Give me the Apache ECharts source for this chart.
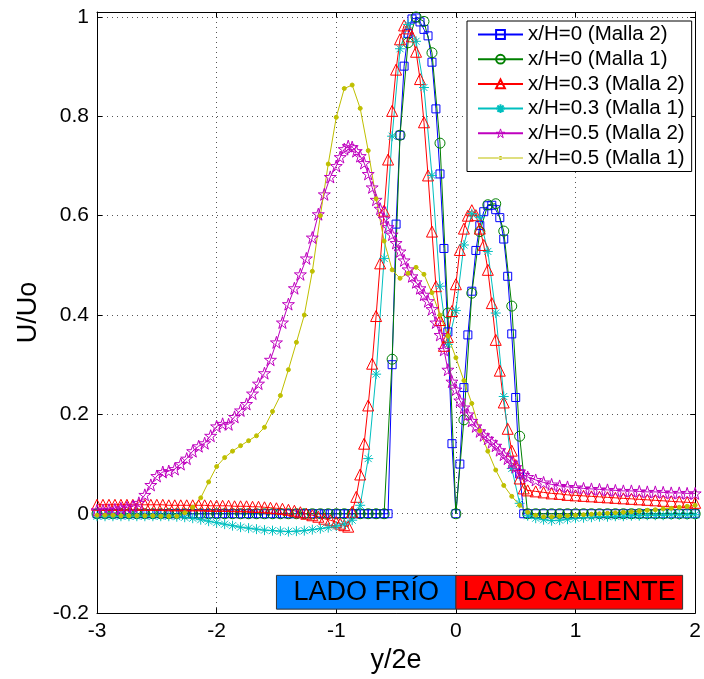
<!DOCTYPE html>
<html><head><meta charset="utf-8">
<script src="https://cdn.jsdelivr.net/npm/echarts@6/dist/echarts.min.js"></script>
<style>html,body{margin:0;padding:0;background:#fff}#c{width:704px;height:679px}</style>
</head><body><div id="c"></div>
<script>
// Malla 2 abscissae (y/2e)
const xMalla2 = [
-3,-2.95,-2.9,-2.85,-2.8,-2.75,-2.7,-2.65,-2.6,-2.55,
-2.5,-2.45,-2.4,-2.35,-2.3,-2.25,-2.2,-2.15,-2.1,-2.05,
-2,-1.95,-1.9,-1.85,-1.8,-1.75,-1.7,-1.65,-1.6,-1.55,
-1.5,-1.45,-1.4,-1.35,-1.3,-1.25,-1.2,-1.15,-1.1,-1.05,
-1,-0.967,-0.933,-0.9,-0.867,-0.833,-0.8,-0.767,-0.733,-0.7,
-0.667,-0.633,-0.6,-0.567,-0.533,-0.5,-0.467,-0.433,-0.4,-0.367,
-0.333,-0.3,-0.267,-0.233,-0.2,-0.167,-0.133,-0.1,-0.067,-0.033,
0,0.033,0.067,0.1,0.133,0.167,0.2,0.233,0.267,0.3,
0.333,0.367,0.4,0.433,0.467,0.5,0.533,0.567,0.6,0.667,
0.733,0.8,0.867,0.933,1,1.067,1.133,1.2,1.267,1.333,
1.4,1.467,1.533,1.6,1.667,1.733,1.8,1.867,1.933,2];
// Malla 1 abscissae
const xMalla1 = [
-3,-2.933,-2.867,-2.8,-2.733,-2.667,-2.6,-2.533,-2.467,-2.4,
-2.333,-2.267,-2.2,-2.133,-2.067,-2,-1.933,-1.867,-1.8,-1.733,
-1.667,-1.6,-1.533,-1.467,-1.4,-1.333,-1.267,-1.2,-1.133,-1.067,
-1,-0.933,-0.867,-0.8,-0.733,-0.667,-0.6,-0.533,-0.467,-0.4,
-0.333,-0.267,-0.2,-0.133,-0.067,0,0.067,0.133,0.2,0.267,
0.333,0.4,0.467,0.533,0.6,0.667,0.733,0.8,0.867,0.933,
1,1.067,1.133,1.2,1.267,1.333,1.4,1.467,1.533,1.6,
1.667,1.733,1.8,1.867,1.933,2];

// x/H=0 (Malla 2)
const u_x0_m2 = [
0,0,0,0,0,0,0,0,0,0,
0,0,0,0,0,0,0,0,0,0,
0,0,0,0,0,0,0,0,0,0,
0,0,0,0,0,0,0,0,0,0,
0,0,0,0,0,0,0,0,0,0,
0,0,0,0,0.30,0.583,0.762,0.901,0.967,0.996,
0.998,0.99,0.975,0.962,0.909,0.815,0.684,0.534,0.366,0.141,
0,0.10,0.254,0.36,0.448,0.53,0.58,0.608,0.62,0.621,
0.612,0.596,0.553,0.478,0.362,0.234,0.08,0,0,0,
0,0,0,0,0,0,0,0,0,0,
0,0,0,0,0,0,0,0,0,0];
// x/H=0 (Malla 1)
const u_x0_m1 = [
0,0,0,0,0,0,0,0,0,0,
0,0,0,0,0,0,0,0,0,0,
0,0,0,0,0,0,0,0,0,0,
0,0,0,0,0,0,0,0.311,0.762,0.948,
1.0,0.991,0.928,0.746,0.404,0,0.189,0.444,0.568,0.622,
0.624,0.569,0.418,0.156,0,0,0,0,0,0,
0,0,0,0,0,0,0,0,0,0,
0,0,0,0,0,0];
// x/H=0.3 (Malla 2)
const u_x03_m2 = [
0.018,0.018,0.018,0.018,0.018,0.018,0.018,0.018,0.018,0.018,
0.018,0.018,0.017,0.017,0.017,0.017,0.017,0.017,0.017,0.016,
0.016,0.016,0.016,0.015,0.015,0.015,0.014,0.014,0.013,0.012,
0.011,0.01,0.008,0.006,0.003,0,-0.003,-0.006,-0.01,-0.013,
-0.017,-0.02,-0.023,-0.026,0.004,0.034,0.079,0.141,0.218,0.302,
0.398,0.504,0.61,0.713,0.811,0.894,0.955,0.983,0.977,0.961,
0.93,0.875,0.788,0.681,0.568,0.458,0.39,0.338,0.356,0.408,
0.462,0.531,0.574,0.6,0.611,0.601,0.574,0.541,0.491,0.424,
0.35,0.288,0.224,0.171,0.127,0.098,0.071,0.051,0.047,0.045,
0.043,0.041,0.04,0.038,0.037,0.036,0.035,0.034,0.033,0.032,
0.031,0.03,0.029,0.028,0.027,0.026,0.025,0.024,0.023,0.022];
// x/H=0.3 (Malla 1)
const u_x03_m1 = [
-0.005,-0.005,-0.005,-0.005,-0.005,-0.005,-0.005,-0.005,-0.005,-0.005,
-0.006,-0.007,-0.009,-0.012,-0.015,-0.018,-0.021,-0.024,-0.027,-0.029,
-0.031,-0.033,-0.034,-0.035,-0.036,-0.035,-0.034,-0.032,-0.03,-0.028,
-0.025,-0.021,-0.013,0.017,0.111,0.281,0.514,0.76,0.936,0.985,
0.951,0.858,0.681,0.458,0.341,0.409,0.541,0.604,0.596,0.528,
0.404,0.236,0.091,0.021,-0.004,-0.009,-0.012,-0.014,-0.013,-0.011,
-0.009,-0.008,-0.007,-0.006,-0.006,-0.005,-0.005,-0.004,-0.004,-0.003,
-0.003,-0.003,-0.002,-0.002,-0.002,-0.002];
// x/H=0.5 (Malla 2)
const u_x05_m2 = [
0.007,0.007,0.008,0.009,0.011,0.013,0.015,0.022,0.038,0.058,
0.076,0.084,0.086,0.09,0.1,0.111,0.126,0.136,0.142,0.157,
0.176,0.181,0.18,0.195,0.208,0.221,0.242,0.262,0.283,0.31,
0.345,0.385,0.422,0.454,0.482,0.514,0.556,0.603,0.643,0.678,
0.70,0.718,0.734,0.74,0.738,0.73,0.72,0.706,0.684,0.657,
0.632,0.614,0.594,0.577,0.562,0.545,0.528,0.51,0.492,0.478,
0.466,0.454,0.441,0.428,0.412,0.385,0.36,0.33,0.29,0.266,
0.25,0.228,0.214,0.2,0.187,0.176,0.166,0.158,0.151,0.144,
0.137,0.128,0.119,0.111,0.103,0.094,0.085,0.078,0.074,0.068,
0.063,0.059,0.056,0.054,0.053,0.051,0.05,0.049,0.048,0.047,
0.046,0.046,0.045,0.044,0.044,0.043,0.042,0.042,0.041,0.041];
// x/H=0.5 (Malla 1)
const u_x05_m1 = [
-0.003,-0.003,-0.003,-0.004,-0.004,-0.004,-0.004,-0.004,-0.005,-0.005,
-0.005,0.002,0.013,0.032,0.064,0.095,0.113,0.126,0.137,0.147,
0.157,0.174,0.206,0.238,0.29,0.345,0.4,0.488,0.6,0.704,
0.798,0.856,0.863,0.816,0.731,0.634,0.549,0.491,0.474,0.484,
0.496,0.482,0.445,0.4,0.358,0.314,0.268,0.222,0.167,0.126,
0.088,0.057,0.035,0.017,0.003,-0.003,-0.006,-0.006,-0.005,-0.004,
-0.003,-0.002,-0.001,0,0.001,0.002,0.003,0.004,0.005,0.007,
0.008,0.01,0.011,0.013,0.015,0.017];

const seriesNames = ['x/H=0 (Malla 2)','x/H=0 (Malla 1)','x/H=0.3 (Malla 2)','x/H=0.3 (Malla 1)','x/H=0.5 (Malla 2)','x/H=0.5 (Malla 1)'];
const seriesColors = ['#0000ff','#008000','#ff0000','#00bfbf','#bf00bf','#bfbf00'];
const xTicks = [-3,-2,-1,0,1,2];
const yTicks = [-0.2,0,0.2,0.4,0.6,0.8,1];
const sideLabels = ['LADO FRÍO','LADO CALIENTE'];
const sideXBounds = [-1.5, 0, 1.895];
const sideYBounds = [-0.192, -0.124];

const FONT = 'Liberation Sans, Arial, sans-serif';
const STAR = 'path://M10,0L12.245,6.91L19.51,6.91L13.63,11.18L15.88,18.09L10,13.82L4.12,18.09L6.37,11.18L0.49,6.91L7.755,6.91Z';
const AST = 'path://M5,0L5,10M0,5L10,5M1.5,1.5L8.5,8.5M1.5,8.5L8.5,1.5';
const DOTLEG = 'path://M0,0L0.01,0L0.01,0.01Z M0,11L0.01,11L0.01,11.01Z M0,5L45,5L45,6L0,6Z M20.5,5.5a2,2 0 1,0 4,0a2,2 0 1,0 -4,0Z';

function mk(name, xs, ys, color, symbol, size, filled) {
  return {
    name: name, type: 'line', data: xs.map((x, i) => [x, ys[i]]),
    symbol: symbol, symbolSize: size, showAllSymbol: true,
    color: color,
    lineStyle: {color: color, width: 1},
    itemStyle: {color: filled ? color : 'rgba(0,0,0,0)', borderColor: color, borderWidth: 1},
    emphasis: {disabled: true}, animation: false
  };
}

const series = [
  mk(seriesNames[0], xMalla2, u_x0_m2, seriesColors[0], 'rect', 8, false),
  mk(seriesNames[1], xMalla1, u_x0_m1, seriesColors[1], 'circle', 10, false),
  mk(seriesNames[2], xMalla2, u_x03_m2, seriesColors[2], 'triangle', 11, false),
  mk(seriesNames[3], xMalla1, u_x03_m1, seriesColors[3], AST, 10, false),
  mk(seriesNames[4], xMalla2, u_x05_m2, seriesColors[4], STAR, 12, false),
  mk(seriesNames[5], xMalla1, u_x05_m1, seriesColors[5], 'circle', 4, true)
];
series[0].markArea = {
  silent: true,
  itemStyle: {borderColor: '#333', borderWidth: 1, opacity: 1},
  label: {show: true, position: 'inside', color: '#000', fontSize: 27, fontFamily: FONT},
  data: [
    [{name: sideLabels[0], xAxis: sideXBounds[0], yAxis: sideYBounds[0], itemStyle: {color: '#0080ff'}},
     {xAxis: sideXBounds[1], yAxis: sideYBounds[1]}],
    [{name: sideLabels[1], xAxis: sideXBounds[1], yAxis: sideYBounds[0], itemStyle: {color: '#ff0000'}},
     {xAxis: sideXBounds[2], yAxis: sideYBounds[1]}]
  ]
};

const legendData = seriesNames.map((n, i) => ({name: n}));
legendData[4].itemStyle = {color: 'rgba(0,0,0,0)', borderColor: seriesColors[4], borderWidth: 1};
legendData[5].icon = DOTLEG;
legendData[5].itemStyle = {color: seriesColors[5], borderWidth: 0};

const axLine = {show: true, onZero: false, lineStyle: {color: '#000', width: 1}};
const tick = {show: true, inside: true, length: 5, lineStyle: {color: '#000'}};
const split = {show: true, lineStyle: {color: '#555', width: 1, type: [1, 4]}};
const lbl = {color: '#000', fontSize: 21, fontFamily: FONT, margin: 8};

const chart = echarts.init(document.getElementById('c'), null, {renderer: 'canvas'});
chart.setOption({
  animation: false,
  backgroundColor: '#fff',
  grid: {left: 97, right: 5, top: 12, bottom: 62, containLabel: false},
  xAxis: [
    {type: 'value', min: xTicks[0], max: xTicks[xTicks.length - 1], interval: 1, position: 'bottom',
     axisLine: axLine, axisTick: tick, splitLine: split, axisLabel: lbl,
     name: 'y/2e', nameLocation: 'middle', nameGap: 30,
     nameTextStyle: {color: '#000', fontSize: 27, fontFamily: FONT}},
    {type: 'value', min: xTicks[0], max: xTicks[xTicks.length - 1], interval: 1, position: 'top',
     axisLine: axLine, axisTick: tick, splitLine: {show: false}, axisLabel: {show: false}}
  ],
  yAxis: [
    {type: 'value', min: yTicks[0], max: 1.01, interval: 0.2, position: 'left',
     axisLine: axLine, axisTick: tick, splitLine: split,
     axisLabel: Object.assign({showMaxLabel: false}, lbl),
     name: 'U/Uo', nameLocation: 'middle', nameGap: 52, nameRotate: 90,
     nameTextStyle: {color: '#000', fontSize: 27, fontFamily: FONT}},
    {type: 'value', min: yTicks[0], max: 1.01, interval: 0.2, position: 'right',
     axisLine: axLine, axisTick: tick, splitLine: {show: false}, axisLabel: {show: false}}
  ],
  legend: {
    orient: 'vertical', left: 467, top: 21,
    padding: [3, 7, 3, 10], itemGap: 3.7, itemWidth: 45, itemHeight: 11,
    backgroundColor: '#fff', borderColor: '#000', borderWidth: 1,
    textStyle: {color: '#000', fontSize: 20.5, fontFamily: FONT, lineHeight: 21},
    data: legendData, selectedMode: false
  },
  series: series
});
</script>
</body></html>
